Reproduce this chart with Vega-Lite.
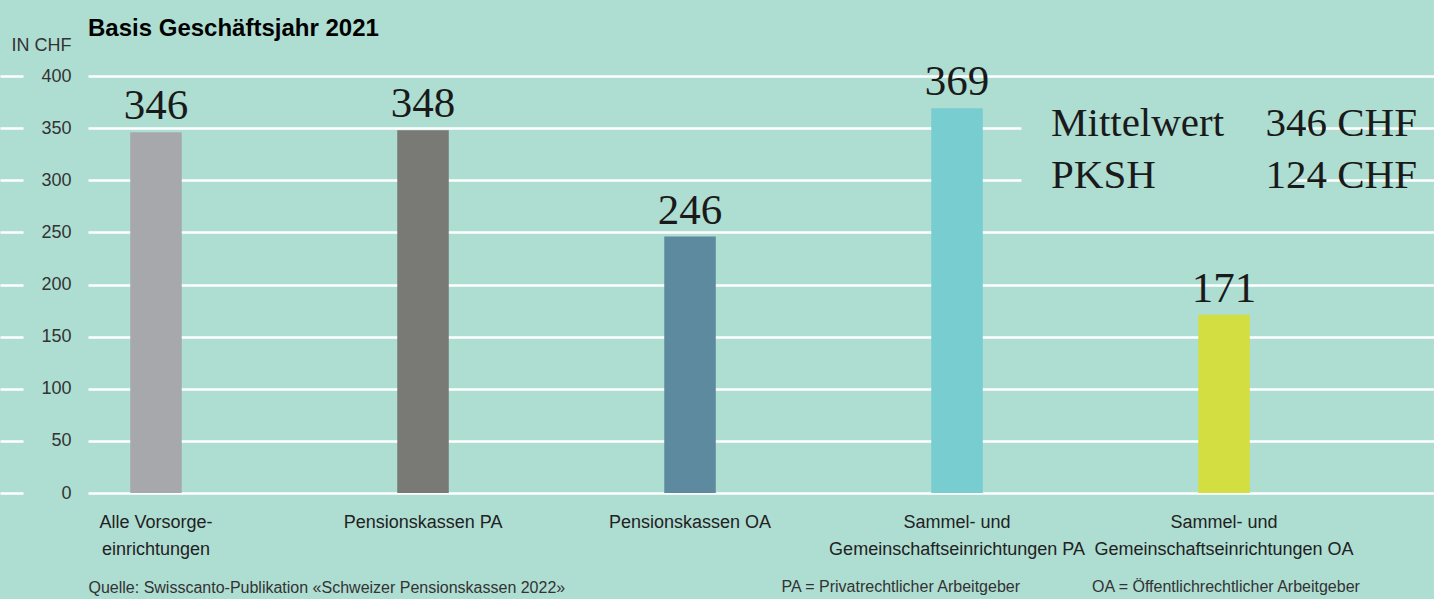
{
  "$schema": "https://vega.github.io/schema/vega-lite/v6.json",
  "autosize": {"type": "none"},
  "width": 1346,
  "height": 417,
  "padding": {"left": 88, "top": 76, "right": 0, "bottom": 106},
  "background": "#aeddd2",
  "config": {"view": {"stroke": null}},
  "title": {
    "text": "Basis Geschäftsjahr 2021",
    "anchor": "start",
    "frame": "group",
    "font": "Liberation Sans",
    "fontSize": 24,
    "fontWeight": "bold",
    "color": "#000000",
    "offset": -5
  },
  "datasets": {
    "kosten": [
      {"Gruppe": "Alle Vorsorge-|einrichtungen", "Kosten": 346},
      {"Gruppe": "Pensionskassen PA", "Kosten": 348},
      {"Gruppe": "Pensionskassen OA", "Kosten": 246},
      {"Gruppe": "Sammel- und|Gemeinschaftseinrichtungen PA", "Kosten": 369},
      {"Gruppe": "Sammel- und|Gemeinschaftseinrichtungen OA", "Kosten": 171}
    ],
    "mittel": [{"label": "Mittelwert", "amount": "346 CHF"}],
    "pksh": [{"label": "PKSH", "amount": "124 CHF"}],
    "notePA": [{"note": "PA = Privatrechtlicher Arbeitgeber"}],
    "noteOA": [{"note": "OA = Öffentlichrechtlicher Arbeitgeber"}],
    "box": [{"box": "Legende"}]
  },
  "resolve": {"scale": {"x": "shared", "y": "shared"}},
  "layer": [
    {
      "data": {"name": "kosten"},
      "mark": {"type": "bar"},
      "encoding": {
        "x": {
          "field": "Gruppe",
          "type": "nominal",
          "sort": null,
          "scale": {"paddingInner": 0.807, "paddingOuter": 0.424, "align": 0.1865},
          "axis": {
            "orient": "bottom",
            "domain": false,
            "ticks": false,
            "tickSize": 0,
            "labelAngle": 0,
            "labelAlign": "center",
            "labelBaseline": "alphabetic",
            "labelPadding": 34,
            "labelLineHeight": 27,
            "labelFont": "Liberation Sans",
            "labelFontSize": 18,
            "labelColor": "#222222",
            "labelLimit": 400,
            "labelExpr": "split(datum.value, '|')",
            "title": "Quelle: Swisscanto-Publikation «Schweizer Pensionskassen 2022»",
            "titleFont": "Liberation Sans",
            "titleFontSize": 16,
            "titleFontWeight": "normal",
            "titleColor": "#333333",
            "titleAnchor": "start",
            "titleAlign": "left",
            "titleBaseline": "alphabetic",
            "titleX": 0,
            "titleY": 99
          }
        },
        "y": {
          "field": "Kosten",
          "type": "quantitative",
          "scale": {"domain": [0, 400], "nice": false, "zero": true},
          "axis": {
            "orient": "left",
            "values": [0, 50, 100, 150, 200, 250, 300, 350, 400],
            "domain": false,
            "ticks": true,
            "tickSize": 88,
            "tickDash": [0, 65, 23, 300],
            "tickColor": "#ffffff",
            "tickWidth": 2.6,
            "grid": true,
            "gridColor": "#ffffff",
            "gridWidth": 2.6,
            "gridOpacity": 1,
            "labelPadding": -71,
            "labelFont": "Liberation Sans",
            "labelFontSize": 18,
            "labelColor": "#333333",
            "labelBaseline": "middle",
            "title": "IN CHF",
            "titleAngle": 0,
            "titleAlign": "right",
            "titleBaseline": "alphabetic",
            "titleX": -17,
            "titleY": -26,
            "titleFont": "Liberation Sans",
            "titleFontSize": 18,
            "titleFontWeight": "normal",
            "titleColor": "#333333"
          }
        },
        "color": {
          "field": "Gruppe",
          "type": "nominal",
          "legend": null,
          "scale": {
            "domain": [
              "Alle Vorsorge-|einrichtungen",
              "Pensionskassen PA",
              "Pensionskassen OA",
              "Sammel- und|Gemeinschaftseinrichtungen PA",
              "Sammel- und|Gemeinschaftseinrichtungen OA"
            ],
            "range": ["#a7a8ab", "#797a75", "#5d8a9e", "#78cdd0", "#d3de40"]
          }
        }
      }
    },
    {
      "data": {"name": "kosten"},
      "mark": {"type": "text", "font": "Liberation Serif", "fontSize": 43, "color": "#1a1a1a", "baseline": "alphabetic", "dy": -13},
      "encoding": {
        "x": {"field": "Gruppe", "type": "nominal", "sort": null},
        "y": {"field": "Kosten", "type": "quantitative"},
        "text": {"field": "Kosten", "type": "quantitative"}
      }
    },
    {
      "data": {"name": "box"},
      "mark": {"type": "rect", "fill": "#aeddd2"},
      "encoding": {
        "x": {"datum": "Sammel- und|Gemeinschaftseinrichtungen PA", "bandPosition": 1.75},
        "x2": {"datum": "Sammel- und|Gemeinschaftseinrichtungen OA", "bandPosition": 1.9},
        "y": {"datum": 383, "type": "quantitative"},
        "y2": {"datum": 272}
      }
    },
    {
      "data": {"name": "mittel"},
      "mark": {"type": "text", "font": "Liberation Serif", "fontSize": 41, "color": "#1a1a1a", "align": "left", "baseline": "alphabetic", "dx": -173},
      "encoding": {
        "x": {"datum": "Sammel- und|Gemeinschaftseinrichtungen OA"},
        "y": {"datum": 342.5, "type": "quantitative"},
        "text": {"field": "label"}
      }
    },
    {
      "data": {"name": "mittel"},
      "mark": {"type": "text", "font": "Liberation Serif", "fontSize": 41, "color": "#1a1a1a", "align": "right", "baseline": "alphabetic", "dx": 193},
      "encoding": {
        "x": {"datum": "Sammel- und|Gemeinschaftseinrichtungen OA"},
        "y": {"datum": 342.5, "type": "quantitative"},
        "text": {"field": "amount"}
      }
    },
    {
      "data": {"name": "pksh"},
      "mark": {"type": "text", "font": "Liberation Serif", "fontSize": 41, "color": "#1a1a1a", "align": "left", "baseline": "alphabetic", "dx": -173},
      "encoding": {
        "x": {"datum": "Sammel- und|Gemeinschaftseinrichtungen OA"},
        "y": {"datum": 292.6, "type": "quantitative"},
        "text": {"field": "label"}
      }
    },
    {
      "data": {"name": "pksh"},
      "mark": {"type": "text", "font": "Liberation Serif", "fontSize": 41, "color": "#1a1a1a", "align": "right", "baseline": "alphabetic", "dx": 193},
      "encoding": {
        "x": {"datum": "Sammel- und|Gemeinschaftseinrichtungen OA"},
        "y": {"datum": 292.6, "type": "quantitative"},
        "text": {"field": "amount"}
      }
    },
    {
      "data": {"name": "notePA"},
      "mark": {"type": "text", "font": "Liberation Sans", "fontSize": 16, "color": "#333333", "align": "right", "baseline": "alphabetic", "dx": 63},
      "encoding": {
        "x": {"datum": "Sammel- und|Gemeinschaftseinrichtungen PA"},
        "y": {"datum": -95, "type": "quantitative"},
        "text": {"field": "note"}
      }
    },
    {
      "data": {"name": "noteOA"},
      "mark": {"type": "text", "font": "Liberation Sans", "fontSize": 16, "color": "#333333", "align": "left", "baseline": "alphabetic", "dx": -132},
      "encoding": {
        "x": {"datum": "Sammel- und|Gemeinschaftseinrichtungen OA"},
        "y": {"datum": -95, "type": "quantitative"},
        "text": {"field": "note"}
      }
    }
  ]
}
